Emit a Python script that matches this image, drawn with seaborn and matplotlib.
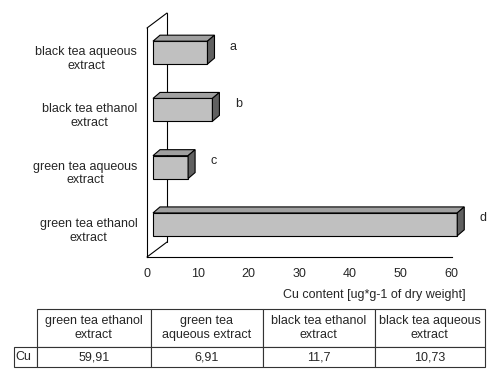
import matplotlib
matplotlib.use("Agg")
import numpy as np
import pandas as pd
import seaborn as sns
import matplotlib.pyplot as plt
from matplotlib.patches import Polygon
from matplotlib.lines import Line2D
from matplotlib.table import Table
from matplotlib.transforms import IdentityTransform, ScaledTranslation

# ---- data ----
categories = ["black tea aqueous\nextract", "black tea ethanol\nextract",
              "green tea aqueous\nextract", "green tea ethanol\nextract"]
cu_values = [10.73, 11.7, 6.91, 59.91]
letters = ["a", "b", "c", "d"]
x_ticks = [0, 10, 20, 30, 40, 50, 60]
x_label = "Cu content [ug*g-1 of dry weight]"
table_headers = ["green tea ethanol\nextract", "green tea\naqueous extract",
                 "black tea ethanol\nextract", "black tea aqueous\nextract"]
table_values = [59.91, 6.91, 11.7, 10.73]
row_label = "Cu"

sns.set_style("white")
plt.rcParams['font.family'] = ['Liberation Sans', 'DejaVu Sans']
FS = 9

W, H = 500, 381
fig = plt.figure(figsize=(W / 100, H / 100), dpi=100)
ax = fig.add_axes([147 / W, 1 - 257 / H, (451.7 - 147) / W, (257 - 28) / H])

df = pd.DataFrame({"cat": categories, "val": cu_values})
sns.barplot(data=df, y="cat", x="val", orient="h", width=0.4, color="#c0c0c0",
            saturation=1, edgecolor="black", linewidth=0.8, ax=ax, zorder=3)

ax.set_xlim(0, 60)
ax.set_ylim(3.5, -0.5)
ax.set_xticks(x_ticks)
ax.set_xticklabels([str(t) for t in x_ticks], fontsize=FS)
ax.set_yticks([-0.5, 0.5, 1.5, 2.5, 3.5])
ax.set_yticklabels([])
ax.set_yticks(range(len(categories)), minor=True)
ax.set_yticklabels(categories, minor=True, fontsize=FS, multialignment="center")
ax.tick_params(axis="y", which="major", direction="out", length=4, width=0.8, color="black")
ax.tick_params(axis="y", which="minor", length=0, pad=7)
ax.tick_params(axis="x", direction="out", length=4, width=0.8, color="black", pad=4)
ax.set_ylabel("")
ax.set_xlabel(x_label, fontsize=FS, ha="center", va="center")
ax.xaxis.set_label_coords((374.5 - 147) / 304.7, -(295 - 257) / 229)
for s in ["top", "right"]:
    ax.spines[s].set_visible(False)
for s in ["left", "bottom"]:
    ax.spines[s].set_color("black")
    ax.spines[s].set_linewidth(0.8)
ax.set_facecolor("white")

fig.canvas.draw()
# back wall (3D depth) lines
DX, DY = 20, 15
ident = IdentityTransform()
(lx, by) = ax.transAxes.transform((0, 0))
(_, ty) = ax.transAxes.transform((0, 1))
wall = [([lx, lx + DX], [ty, ty + DY]),
        ([lx + DX, lx + DX], [by + DY, ty + DY]),
        ([lx, lx + DX], [by, by + DY])]
for xs, ys in wall:
    ln = Line2D(xs, ys, color="black", lw=0.8, transform=ident, clip_on=False, zorder=1)
    ax.add_artist(ln)

# 3D bar faces
OX, OY = 6, 4      # front face offset (px)
BX, BY = 7, 6      # bar depth (px)
shift = ScaledTranslation(OX / 100, OY / 100, fig.dpi_scale_trans)
for p in ax.patches:
    x0, y0 = p.get_x(), p.get_y()
    w, h = p.get_width(), p.get_height()
    (L, B) = ax.transData.transform((x0, y0 + h))
    (R, T) = ax.transData.transform((x0 + w, y0))
    p.set_transform(ax.transData + shift)
    p.set_clip_on(False)
    L += OX; R += OX; B += OY; T += OY
    top = Polygon([(L, T), (R, T), (R + BX, T + BY), (L + BX, T + BY)], closed=True,
                  facecolor="#a0a0a0", edgecolor="black", lw=0.8,
                  transform=ident, clip_on=False, zorder=3)
    side = Polygon([(R, B), (R, T), (R + BX, T + BY), (R + BX, B + BY)], closed=True,
                   facecolor="#606060", edgecolor="black", lw=0.8,
                   transform=ident, clip_on=False, zorder=3)
    ax.add_artist(top)
    ax.add_artist(side)

for i, (v, lab) in enumerate(zip(cu_values, letters)):
    ax.annotate(lab, xy=(v, i), xytext=(32, 10), textcoords="offset pixels",
                ha="center", va="center", fontsize=FS, annotation_clip=False)

# ---- table ----
tax = fig.add_axes([0, 0, 1, 1])
tax.axis("off")
# bbox covers the data columns only; the row-label column hangs to its left
tab = Table(tax, bbox=[36.7 / W, 1 - 367 / H, (485 - 36.7) / W, (367 - 309) / H])
label_w = 22.7
col_w = [114, 112, 112, 110.3]
h_head, h_row = 38, 20
for c, (hdr, v) in enumerate(zip(table_headers, table_values)):
    tab.add_cell(0, c, width=col_w[c] / W, height=h_head / H, text=hdr, loc="center")
    tab.add_cell(1, c, width=col_w[c] / W, height=h_row / H,
                 text=str(v).replace(".", ","), loc="center")
tab.add_cell(1, -1, width=label_w / W, height=h_row / H, text=row_label, loc="left")
tab.auto_set_font_size(False)
tab.set_fontsize(FS)
for (r, c), cell in tab.get_celld().items():
    cell.set_edgecolor("#333333")
    cell.set_linewidth(0.8)
    cell.PAD = 0.03
tab[1, -1].PAD = 0.05
tax.add_table(tab)

fig.savefig("out.png", dpi=100)
